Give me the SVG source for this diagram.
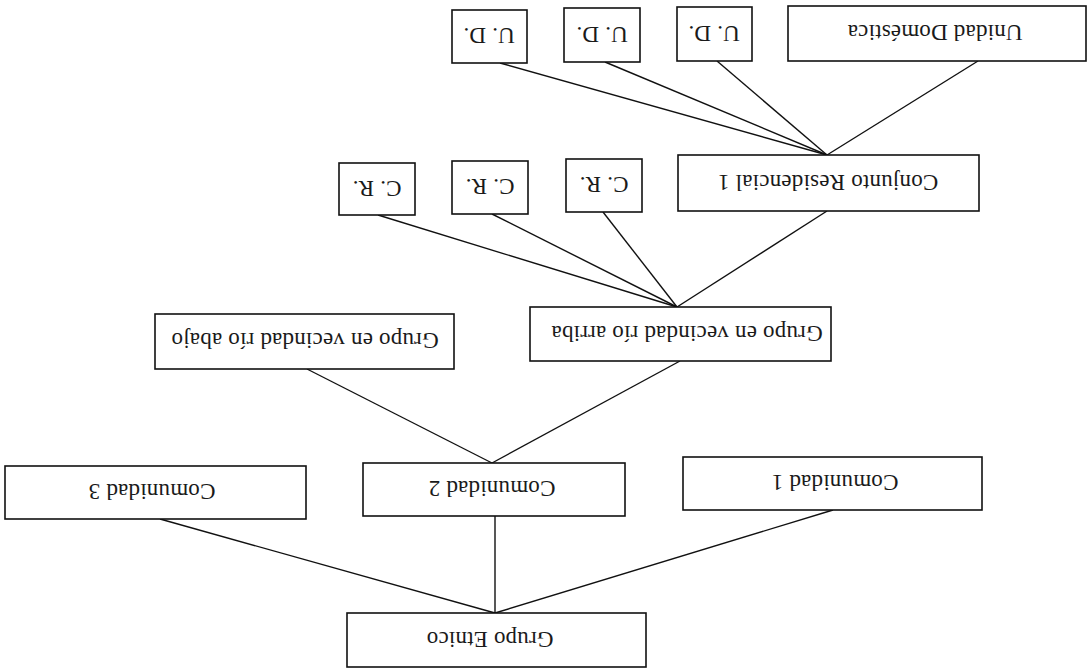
<svg xmlns="http://www.w3.org/2000/svg" width="1088" height="671" viewBox="0 0 1088 671">
<style>
.box{fill:#fff;stroke:#111;stroke-width:1.6}
.lbl{font-family:"Liberation Serif","Times New Roman",serif;font-size:23px;font-weight:normal;letter-spacing:0.2px;fill:#1a1a1a;text-anchor:middle}
.con line{stroke:#111;stroke-width:1.4}
</style>
<rect width="1088" height="671" fill="#fff"/>
<g class="con" id="connectors">
<line x1="160" y1="519" x2="495" y2="613"/>
<line x1="495" y1="516" x2="495" y2="613"/>
<line x1="833" y1="510" x2="495" y2="613"/>
<line x1="307" y1="369" x2="492" y2="463"/>
<line x1="680" y1="361" x2="492" y2="463"/>
<line x1="378" y1="215" x2="677" y2="307"/>
<line x1="492" y1="214" x2="677" y2="307"/>
<line x1="603" y1="212" x2="677" y2="307"/>
<line x1="827" y1="211" x2="677" y2="307"/>
<line x1="500" y1="63" x2="827" y2="155"/>
<line x1="605" y1="62" x2="827" y2="155"/>
<line x1="717" y1="61" x2="827" y2="155"/>
<line x1="978" y1="61" x2="827" y2="155"/>
</g>
<g id="grupo-etnico"><rect class="box" x="347" y="613" width="299" height="54"/><text class="lbl" x="490" y="648" transform="rotate(180 490 640)">Grupo Etnico</text></g>
<g id="comunidad-3"><rect class="box" x="5" y="466" width="301" height="53"/><text class="lbl" x="152" y="500" transform="rotate(180 152 492)">Comunidad 3</text></g>
<g id="comunidad-2"><rect class="box" x="363" y="463" width="262" height="53"/><text class="lbl" x="492" y="497" transform="rotate(180 492 489)">Comunidad 2</text></g>
<g id="comunidad-1"><rect class="box" x="683" y="457" width="299" height="53"/><text class="lbl" x="835" y="491" transform="rotate(180 835 483)">Comunidad 1</text></g>
<g id="vecindad-abajo"><rect class="box" x="155" y="314" width="299" height="55"/><text class="lbl" x="305" y="349" transform="rotate(180 305 341)">Grupo en vecindad río abajo</text></g>
<g id="vecindad-arriba"><rect class="box" x="530" y="307" width="301" height="54"/><text class="lbl" x="687" y="342" transform="rotate(180 687 334)">Grupo en vecindad río arriba</text></g>
<g id="cr-a"><rect class="box" x="339" y="163" width="76" height="52"/><text class="lbl" x="377" y="197" transform="rotate(180 377 189)">C. R.</text></g>
<g id="cr-b"><rect class="box" x="452" y="161" width="76" height="53"/><text class="lbl" x="490" y="195" transform="rotate(180 490 187)">C. R.</text></g>
<g id="cr-c"><rect class="box" x="566" y="159" width="76" height="53"/><text class="lbl" x="604" y="193" transform="rotate(180 604 185)">C. R.</text></g>
<g id="conjunto-residencial-1"><rect class="box" x="678" y="155" width="301" height="56"/><text class="lbl" x="828" y="191" transform="rotate(180 828 183)">Conjunto Residencial 1</text></g>
<g id="ud-a"><rect class="box" x="452" y="10" width="75" height="53"/><text class="lbl" x="489" y="44" transform="rotate(180 489 36)">U. D.</text></g>
<g id="ud-b"><rect class="box" x="564" y="8" width="76" height="54"/><text class="lbl" x="602" y="43" transform="rotate(180 602 35)">U. D.</text></g>
<g id="ud-c"><rect class="box" x="677" y="7" width="75" height="54"/><text class="lbl" x="714" y="42" transform="rotate(180 714 34)">U. D.</text></g>
<g id="unidad-domestica"><rect class="box" x="788" y="6" width="298" height="55"/><text class="lbl" x="935" y="41" transform="rotate(180 935 33)">Unidad Doméstica</text></g>
</svg>
